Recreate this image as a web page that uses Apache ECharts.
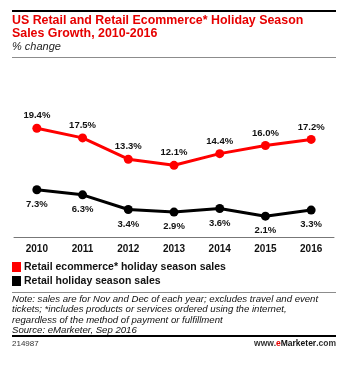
<!DOCTYPE html>
<html>
<head>
<meta charset="utf-8">
<script src="https://cdn.jsdelivr.net/npm/echarts@6/dist/echarts.min.js"></script>
<style>
  html, body { margin: 0; padding: 0; background: #fff; }
  #chart { width: 349px; height: 368px; }
</style>
</head>
<body>
<div id="chart"></div>
<script>
// Holiday season sales growth, % change
const years = ['2010', '2011', '2012', '2013', '2014', '2015', '2016'];
const ecommerceGrowth = [19.4, 17.5, 13.3, 12.1, 14.4, 16.0, 17.2];
const retailGrowth = [7.3, 6.3, 3.4, 2.9, 3.6, 2.1, 3.3];
const seriesNames = ['Retail ecommerce* holiday season sales', 'Retail holiday season sales'];
const noteLines = [
  'Note: sales are for Nov and Dec of each year; excludes travel and event',
  'tickets; *includes products or services ordered using the internet,',
  'regardless of the method of payment or fulfillment',
  'Source: eMarketer, Sep 2016'
];

const RED = '#ff0000';
const FONT = '"Liberation Sans", Arial, sans-serif';

const chart = echarts.init(document.getElementById('chart'), null, { renderer: 'canvas' });

const labelFmt = p => p.value.toFixed(1) + '%';

chart.setOption({
  backgroundColor: '#fff',
  animation: false,
  textStyle: { fontFamily: FONT },
  title: [
    {
      text: 'US Retail and Retail Ecommerce* Holiday Season\nSales Growth, 2010-2016',
      left: 12, top: 14, padding: 0,
      textStyle: { color: '#e60000', fontSize: 12.4, fontWeight: 'bold', lineHeight: 12.8, fontFamily: FONT }
    },
    {
      text: '% change',
      left: 12, top: 41, padding: 0,
      textStyle: { color: '#222', fontSize: 11, fontStyle: 'italic', fontWeight: 'normal', lineHeight: 12, fontFamily: FONT }
    },
    {
      text: noteLines.join('\n'),
      left: 12, top: 294, padding: 0,
      textStyle: { color: '#111', fontSize: 9.6, fontStyle: 'italic', fontWeight: 'normal', lineHeight: 10.4, fontFamily: FONT }
    },
    {
      text: '214987',
      left: 12, top: 339, padding: 0,
      textStyle: { color: '#333', fontSize: 8, fontWeight: 'normal', lineHeight: 9, fontFamily: FONT }
    },
    {
      text: '{a|www.}{e|e}{m|Marketer}{a|.com}',
      right: 13, top: 339, padding: 0,
      textStyle: {
        fontFamily: FONT,
        rich: {
          a: { color: '#333', fontSize: 8.5, lineHeight: 9, fontFamily: FONT },
          e: { color: '#e60000', fontSize: 8.5, lineHeight: 9, fontWeight: 'bold', fontFamily: FONT },
          m: { color: '#111', fontSize: 8.5, lineHeight: 9, fontWeight: 'bold', fontFamily: FONT }
        }
      }
    }
  ],
  graphic: [
    { type: 'rect', shape: { x: 12, y: 10, width: 324, height: 2 }, style: { fill: '#000' } },
    { type: 'rect', shape: { x: 12, y: 57, width: 324, height: 1 }, style: { fill: '#8c8c8c' } },
    { type: 'rect', shape: { x: 12, y: 292, width: 324, height: 1 }, style: { fill: '#8c8c8c' } },
    { type: 'rect', shape: { x: 12, y: 335, width: 324, height: 2 }, style: { fill: '#000' } }
  ],
  legend: {
    orient: 'vertical',
    left: 12, top: 261, padding: 0,
    itemWidth: 9, itemHeight: 10, itemGap: 2,
    icon: 'rect',
    selectedMode: false,
    data: seriesNames,
    textStyle: { color: '#111', fontSize: 10.5, fontWeight: 'bold', lineHeight: 12, fontFamily: FONT, padding: [0, 0, 0, -2] }
  },
  grid: { left: 14, right: 15, top: 115, bottom: 131 },
  xAxis: {
    type: 'category',
    data: years,
    boundaryGap: true,
    axisLine: { onZero: false, lineStyle: { color: '#777', width: 1 } },
    axisTick: { alignWithLabel: true, length: 4, lineStyle: { color: '#777' } },
    axisLabel: { color: '#111', fontSize: 10, fontWeight: 'bold', margin: 7, fontFamily: FONT }
  },
  yAxis: {
    type: 'value',
    min: -2, max: 22,
    show: false,
    splitLine: { show: false }
  },
  series: [
    {
      name: seriesNames[0],
      type: 'line',
      data: ecommerceGrowth,
      color: RED,
      symbol: 'circle', symbolSize: 9,
      lineStyle: { width: 3, color: RED },
      itemStyle: { color: RED },
      label: {
        show: true, position: 'top', distance: 3,
        formatter: labelFmt,
        color: '#111', fontSize: 9.5, fontWeight: 'bold', fontFamily: FONT
      }
    },
    {
      name: seriesNames[1],
      type: 'line',
      data: retailGrowth,
      color: '#000',
      symbol: 'circle', symbolSize: 9,
      lineStyle: { width: 3, color: '#000' },
      itemStyle: { color: '#000' },
      label: {
        show: true, position: 'bottom', distance: 5,
        formatter: labelFmt,
        color: '#111', fontSize: 9.5, fontWeight: 'bold', fontFamily: FONT
      }
    }
  ]
});
</script>
</body>
</html>
